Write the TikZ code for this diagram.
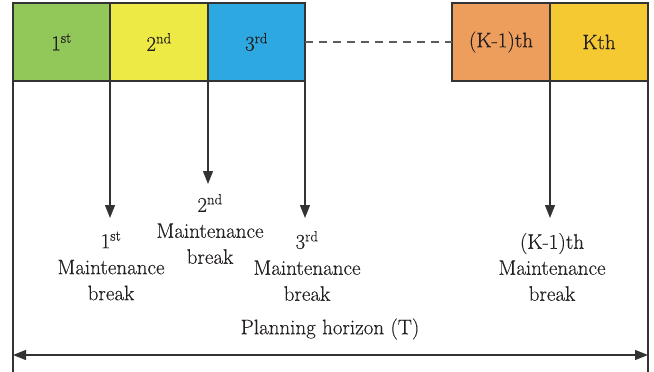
\documentclass[tikz,border=0pt]{standalone}
\usepackage{fontspec}
\newfontfamily\lmheavy{Latin Modern Roman}[FakeBold=0.3]
\usetikzlibrary{arrows.meta}
\definecolor{cgreen}{HTML}{92C85A}
\definecolor{cyellow}{HTML}{EEEA45}
\definecolor{cblue}{HTML}{2EA8E0}
\definecolor{corange}{HTML}{EE9E5C}
\definecolor{cgold}{HTML}{F4C932}
\definecolor{cline}{HTML}{333333}
\definecolor{ctext}{HTML}{231F20}
\begin{document}
\begin{tikzpicture}[x=1pt,y=-1pt,
  period/.style={draw=cline,line width=1.2pt,minimum width=97pt,minimum height=78pt,inner sep=0pt,outer sep=0pt,
     text=ctext,font=\lmheavy\fontsize{21}{24}\selectfont},
  lbl/.style={align=center,text=ctext,font=\lmheavy\fontsize{21}{26}\selectfont,inner sep=0pt},
  vline/.style={draw=cline,line width=1.3pt},
  brk/.style={vline,-{Triangle[width=10pt,length=13pt]}},
  horiz/.style={vline,{Triangle[width=10pt,length=13pt]}-{Triangle[width=10pt,length=13pt]}}]
\useasboundingbox (0,0) rectangle (654,372);
\node[period,fill=cgreen]  (b1) at (61.5,42) {1\textsuperscript{st}};
\node[period,fill=cyellow,minimum width=98pt] (b2) at (159,42) {2\textsuperscript{nd}};
\node[period,fill=cblue]   (b3) at (256.5,42) {3\textsuperscript{rd}};
\node[period,fill=corange,minimum width=98pt] (b4) at (501,42) {(K-1)th};
\node[period,fill=cgold,minimum width=98pt]   (b5) at (599,42) {Kth};
\draw[vline,dashed,dash pattern=on 8pt off 6pt,draw=cline!80] (b3.east) -- (b4.west);
% labels
\node[lbl] (l1) at (111,266) {1\textsuperscript{st}\\Maintenance\\break};
\node[lbl] (l2) at (210,229) {2\textsuperscript{nd}\\Maintenance\\break};
\node[lbl] (l3) at (307,266) {3\textsuperscript{rd}\\Maintenance\\break};
\node[lbl] (l4) at (552,267) {(K-1)th\\Maintenance\\break};
\node[lbl] (lp) at (330,329) {Planning horizon (T)};
% end coordinates
\coordinate (e1) at (b1.south east |- 0,218);
\coordinate (e2) at (b2.south east |- 0,184);
\coordinate (e3) at (b3.south east |- 0,218);
\coordinate (e4) at (b4.south east |- 0,218);
\coordinate (bl) at (b1.south west |- 0,372);
\coordinate (br) at (b5.south east |- 0,372);
\coordinate (hl) at (b1.south west |- 0,355);
\coordinate (hr) at (b5.south east |- 0,355);
% vertical lines
\draw[vline] (b1.south west) -- (bl);
\draw[vline] (b5.south east) -- (br);
\draw[brk] (b1.south east) -- (e1);
\draw[brk] (b2.south east) -- (e2);
\draw[brk] (b3.south east) -- (e3);
\draw[brk] (b4.south east) -- (e4);
\draw[horiz] (hl) -- (hr);
\end{tikzpicture}
\end{document}
